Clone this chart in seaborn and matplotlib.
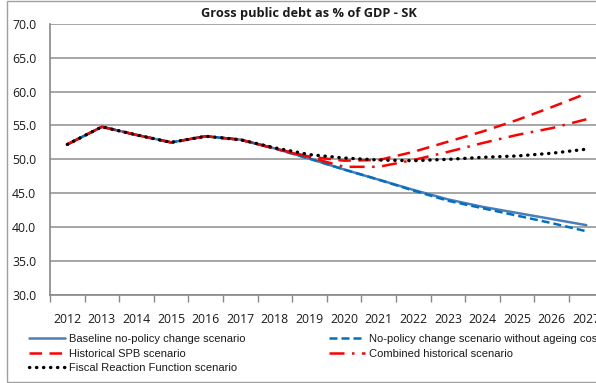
import matplotlib
matplotlib.use("Agg")
import matplotlib.pyplot as plt
import seaborn as sns
import pandas as pd
from matplotlib.patches import Rectangle

years = ["2012", "2013", "2014", "2015", "2016", "2017", "2018", "2019",
         "2020", "2021", "2022", "2023", "2024", "2025", "2026", "2027"]

baseline = [52.2, 54.8, 53.6, 52.5, 53.4, 52.9, 51.6, 50.1,
            48.5, 47.0, 45.5, 44.1, 43.0, 42.1, 41.2, 40.3]
no_ageing = [52.2, 54.8, 53.6, 52.5, 53.4, 52.9, 51.6, 50.1,
             48.5, 47.0, 45.4, 43.9, 42.8, 41.7, 40.6, 39.4]
hist_spb = [52.2, 54.8, 53.6, 52.5, 53.4, 52.9, 51.6, 50.4,
            49.8, 49.9, 51.1, 52.6, 54.1, 55.8, 57.7, 59.7]
combined = [52.2, 54.8, 53.6, 52.5, 53.4, 52.9, 51.6, 50.3,
            48.9, 48.9, 49.9, 51.1, 52.4, 53.6, 54.6, 55.9]
frf = [52.2, 54.8, 53.6, 52.5, 53.4, 52.9, 51.7, 50.7,
       50.2, 49.9, 49.8, 50.0, 50.3, 50.5, 50.9, 51.5]

labels = ["Baseline no-policy change scenario",
          "No-policy change scenario without ageing costs",
          "Historical SPB scenario",
          "Combined historical scenario",
          "Fiscal Reaction Function scenario"]

sns.set_theme(style="white")
plt.rcParams["font.family"] = ["Open Sans", "DejaVu Sans"]

fig = plt.figure(figsize=(5.96, 3.83), dpi=100)
ax = fig.add_axes([50 / 596, 1 - 295 / 383, 553.6 / 596, (295 - 23.7) / 383])

pos = list(range(len(years)))
df = pd.DataFrame({"pos": pos, "baseline": baseline, "no_ageing": no_ageing,
                   "hist_spb": hist_spb, "combined": combined, "frf": frf})

styles = [
    ("baseline", labels[0], dict(color="#4a7ebb", lw=1.8, ls="-")),
    ("no_ageing", labels[1], dict(color="#0070c0", lw=1.8, ls=(0, (3.2, 1.6)))),
    ("hist_spb", labels[2], dict(color="#ff0000", lw=1.8, ls=(0, (5, 3)))),
    ("combined", labels[3], dict(color="#ff0000", lw=1.8, ls=(0, (6, 3, 1, 3)))),
    ("frf", labels[4], dict(color="black", lw=2.4, ls=(0, (0.1, 2.0)),
                            dash_capstyle="round", solid_capstyle="round")),
]
handles = {}
for col, lab, kw in styles:
    sns.lineplot(data=df, x="pos", y=col, ax=ax, label=lab, legend=False, **kw)
    handles[lab] = ax.lines[-1]

ax.set_xlim(-0.5, len(years) - 0.5)
ax.set_ylim(30, 70)
ax.set_yticks([30, 35, 40, 45, 50, 55, 60, 65, 70])
ax.set_yticklabels([f"{v:.1f}" for v in range(30, 71, 5)], fontsize=8.8)
ax.set_xticks(pos)
ax.set_xticklabels(years, fontsize=8.8)
ax.set_xticks([p - 0.5 for p in pos] + [len(years) - 0.5], minor=True)
ax.tick_params(axis="x", which="major", length=0, pad=13, colors="#1a1a1a")
ax.tick_params(axis="x", which="minor", length=5, width=1, color="#888888",
               direction="out", bottom=True)
ax.tick_params(axis="y", which="major", length=0, pad=10, colors="#1a1a1a")
ax.set_xlabel("")
ax.set_ylabel("")
ax.grid(axis="y", color="#a6a6a6", lw=1.4)
ax.grid(axis="x", visible=False)
ax.set_axisbelow(True)
for side in ["top", "right"]:
    ax.spines[side].set_visible(False)
for side in ["left", "bottom"]:
    ax.spines[side].set_color("#888888")
    ax.spines[side].set_linewidth(1.2)

fig.text(309 / 596, 1 - 14 / 383, "Gross public debt as % of GDP - SK",
         ha="center", va="center", fontsize=9.2, fontweight="bold",
         color="#1a1a1a")

legend_font = {"family": ["Liberation Sans Narrow", "Liberation Sans"],
               "size": 8.0}
common = dict(loc="upper left", frameon=False, handlelength=3.2,
              handletextpad=0.4, labelspacing=0.42, borderaxespad=0,
              borderpad=0, prop=legend_font)
left_items = [labels[0], labels[2], labels[4]]
right_items = [labels[1], labels[3]]
leg1 = fig.legend([handles[l] for l in left_items], left_items,
                  bbox_to_anchor=(29 / 596, 1 - 334 / 383), **common)
leg2 = fig.legend([handles[l] for l in right_items], right_items,
                  bbox_to_anchor=(329 / 596, 1 - 334 / 383), **common)
for leg in (leg1, leg2):
    for t in leg.get_texts():
        t.set_color("#1a1a1a")

fig.patches.append(Rectangle((7 / 596, 1 / 383), 1.2, 381 / 383,
                             transform=fig.transFigure, fill=False,
                             edgecolor="#a0a0a0", lw=1.0))

fig.savefig("out.png", dpi=100)
